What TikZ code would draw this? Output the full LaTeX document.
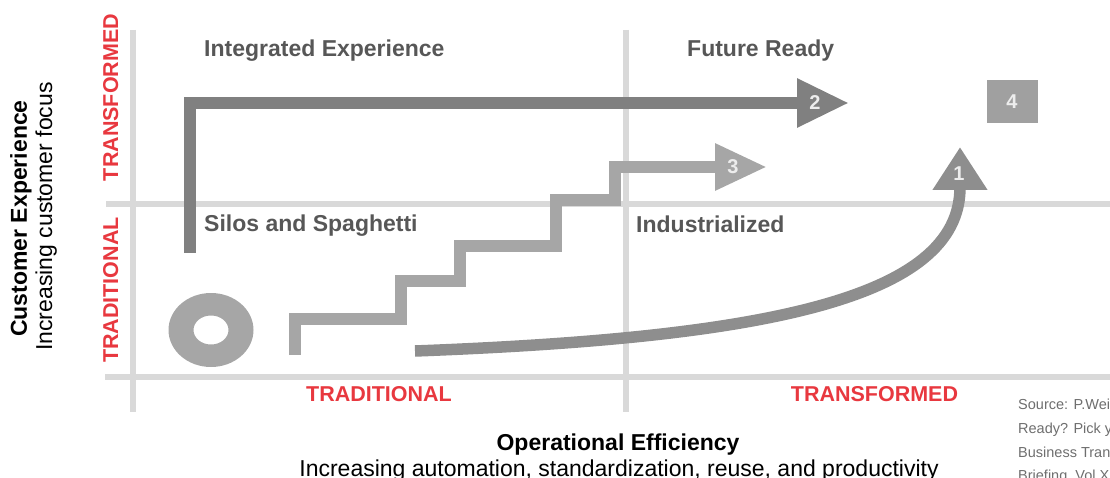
\documentclass[tikz,border=0pt]{standalone}
\usepackage{fontspec}
\setmainfont{Liberation Sans}
\usetikzlibrary{arrows.meta}
\definecolor{axisgray}{HTML}{D9D9D9}
\definecolor{labgray}{HTML}{575757}
\definecolor{redlab}{HTML}{E8383F}
\definecolor{darkarrow}{HTML}{808080}
\definecolor{midarrow}{HTML}{8E8E8E}
\definecolor{lightarrow}{HTML}{A6A6A6}
\definecolor{boxgray}{HTML}{A0A0A0}
\definecolor{srcgray}{HTML}{6E6E6E}
\definecolor{numwhite}{HTML}{EDEDED}
\begin{document}
\begin{tikzpicture}[x=1pt,y=-1pt,
  axis/.style={draw=axisgray,line width=5.5pt},
  quad/.style={anchor=base west,inner sep=0pt,text=labgray,font=\fontsize{23}{26}\selectfont\bfseries},
  redtxt/.style={inner sep=0pt,text=redlab,font=\fontsize{21.5}{26}\selectfont\bfseries},
  numtxt/.style={inner sep=0pt,text=numwhite,font=\fontsize{20}{22}\selectfont\bfseries},
  srctxt/.style={anchor=base west,inner sep=0pt,text=srcgray,font=\fontsize{14.5}{16}\selectfont},
  bigarrow/.style={line width=12pt,line join=miter}
]
\useasboundingbox (0,0) rectangle (1110,478);
% axes
\coordinate (vlT) at (133,30);  \coordinate (vlB) at (133,412);
\coordinate (vmT) at (626,30);  \coordinate (vmB) at (626,412);
\coordinate (hmL) at (106,204); \coordinate (hmR) at (1110,204);
\coordinate (hbL) at (105,377); \coordinate (hbR) at (1110,377);
\draw[axis] (vlT) -- (vlB);
\draw[axis] (vmT) -- (vmB);
\draw[axis] (hmL) -- (hmR);
\draw[axis] (hbL) -- (hbR);
% quadrant labels
\node[quad] (qie) at (204,57) {Integrated Experience};
\node[quad] (qfr) at (687,57) {Future Ready};
\node[quad] (qss) at (204,232) {Silos and Spaghetti};
\node[quad] (qin) at (636,233) {Industrialized};
% red axis labels
\node[redtxt,anchor=base] (xtrad) at (379,401) {TRADITIONAL};
\node[redtxt,anchor=base] (xtran) at (874.5,401) {TRANSFORMED};
\node[redtxt,anchor=base,rotate=90] (ytran) at (118,97.5) {TRANSFORMED};
\node[redtxt,anchor=base,rotate=90] (ytrad) at (118,290) {TRADITIONAL};
% axis titles
\node[inner sep=0pt,anchor=base,rotate=90,font=\fontsize{23}{26}\selectfont\bfseries] (ytitle) at (27,218.5) {Customer Experience};
\node[inner sep=0pt,anchor=base,rotate=90,font=\fontsize{23}{26}\selectfont] (ysub) at (52,216.5) {Increasing customer focus};
\node[inner sep=0pt,anchor=base,font=\fontsize{23}{26}\selectfont\bfseries] (xtitle) at (618,450) {Operational Efficiency};
\node[inner sep=0pt,anchor=base,font=\fontsize{23}{26}\selectfont] (xsub) at (619,476) {Increasing automation, standardization, reuse, and productivity};
% source
\node[srctxt] (s1) at (1018,409) {Source: P.Wei};
\node[srctxt] (s2) at (1018,433) {Ready? Pick y};
\node[srctxt] (s3) at (1018,457) {Business Tran};
\node[srctxt] (s4) at (1018,480) {Briefing, Vol X};
% donut
\fill[lightarrow,even odd rule] (211,330) ellipse [x radius=42.5pt,y radius=37pt]
  (211,330) ellipse [x radius=17.5pt,y radius=14.5pt];
% arrow 2
\coordinate (a2s) at (190,253);
\coordinate (a2c) at (190,103);
\coordinate (a2e) at (849,103);
\draw[bigarrow,darkarrow,-{Triangle[length=52pt,width=46pt]}] (a2s) -- (a2c) -- (a2e);
\node[numtxt] (n2) at (815,103) {2};
% arrow 3 staircase
\coordinate (a3s) at (295,355);
\coordinate (a3e) at (767,167);
\draw[bigarrow,lightarrow,-{Triangle[length=52pt,width=44pt]}] (a3s) -- (295,319) -- (401,319) -- (401,281) -- (460,281) -- (460,246) -- (556,246) -- (556,200) -- (615,200) -- (615,167) -- (a3e);
\node[numtxt] (n3) at (733,167) {3};
% arrow 1 curve
\coordinate (a1s) at (415,351);
\coordinate (a1e) at (960,147);
\draw[line width=11.5pt,midarrow,-{Triangle[length=43pt,width=52pt]}] (a1s) .. controls (760,338) and (960,300) .. (a1e);
\node[numtxt] (n1) at (959,174) {1};
% box 4
\node[fill=boxgray,minimum width=51pt,minimum height=43pt,inner sep=0pt,text=numwhite,font=\fontsize{20}{22}\selectfont\bfseries] (b4) at (1012,102) {4};
\end{tikzpicture}
\end{document}
